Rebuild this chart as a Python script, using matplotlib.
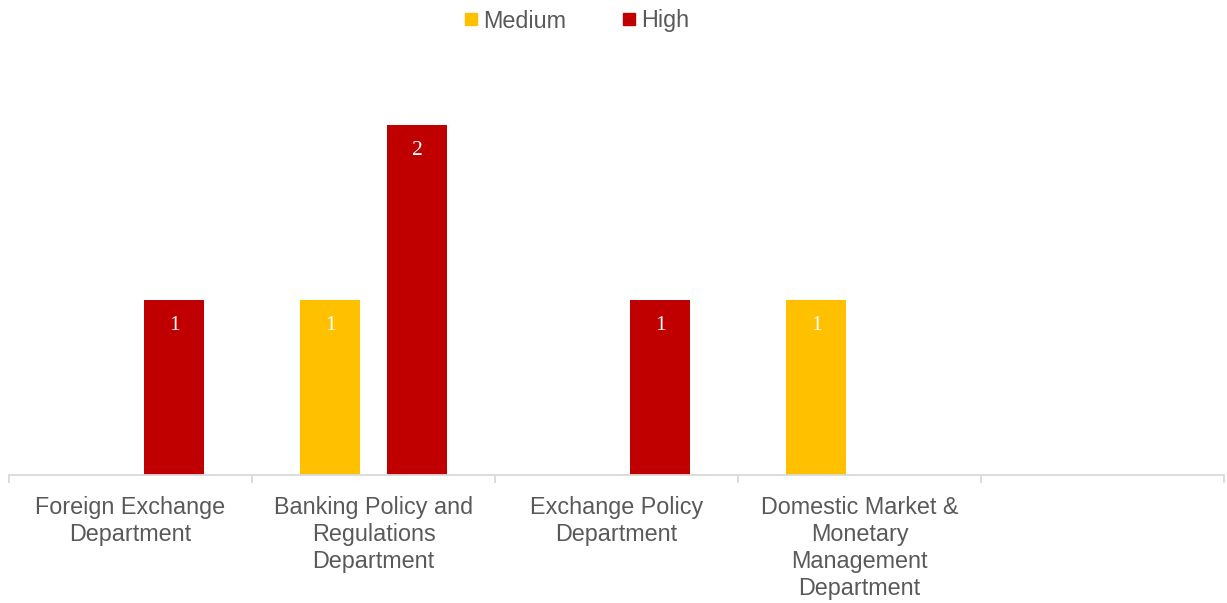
import numpy as np
import matplotlib.pyplot as plt
from matplotlib.lines import Line2D

# values (nan = no bar)
categories = ["Foreign Exchange\nDepartment",
              "Banking Policy and\nRegulations\nDepartment",
              "Exchange Policy\nDepartment",
              "Domestic Market &\nMonetary\nManagement\nDepartment",
              ""]
medium = [np.nan, 1, np.nan, 1, np.nan]
high = [1, 2, 1, np.nan, np.nan]

c_med = "#FFC000"
c_high = "#C00000"
grey = "#595959"
axis_c = "#D9D9D9"

plt.rcParams['font.family'] = ['Liberation Sans', 'DejaVu Sans']

fig = plt.figure(figsize=(12.27, 6.03), dpi=100)
ax = fig.add_axes([9/1227, 128/603, 1215/1227, 385/603])

X = np.arange(len(categories))
w = 0.247
off = 0.179
for vals, sign, col in [(medium, -1, c_med), (high, 1, c_high)]:
	for i, v in enumerate(vals):
		if np.isnan(v):
			continue
		ax.bar(X[i] + sign*off, v, width=w, color=col)
		ax.text(X[i] + sign*off, v - 0.145, "%d" % v, ha="center", va="center",
				color="white", fontsize=15.5, family=["Liberation Serif", "DejaVu Serif"])

ax.set_xlim(-0.5, len(categories) - 0.5)
ax.set_ylim(0, 2.2)
ax.set_yticks([])
for s in ["top", "right", "left"]:
	ax.spines[s].set_visible(False)
ax.spines["bottom"].set_color(axis_c)
ax.spines["bottom"].set_linewidth(1.3)

ax.set_xticks(X)
ax.set_xticklabels(categories, fontsize=16.8, color=grey, linespacing=1.23)
ax.tick_params(axis="x", which="major", length=0, pad=15)
ax.set_xticks(np.arange(-0.5, len(categories)), minor=True)
ax.tick_params(axis="x", which="minor", length=6, width=1.3, color=axis_c)

handles = [Line2D([], [], marker="s", linestyle="none", color=c_med, markersize=9),
           Line2D([], [], marker="s", linestyle="none", color=c_high, markersize=9)]
leg = fig.legend(handles, ["Medium", "High"], loc="center", bbox_to_anchor=(0.47, 1 - 21/603),
                 ncol=2, frameon=False, fontsize=16.8, handlelength=0.6, handletextpad=0.2,
                 columnspacing=2.4, labelcolor=grey)

fig.savefig("out.png", dpi=100)
